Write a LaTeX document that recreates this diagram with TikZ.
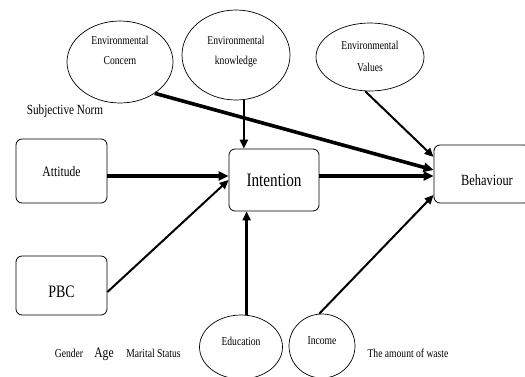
\documentclass[tikz,border=0pt]{standalone}
\usepackage{fontspec}
\setmainfont[FakeStretch=0.8]{Liberation Serif}
\usetikzlibrary{arrows.meta,shapes.geometric}
\newcommand{\mytxt}[2]{\raisebox{#1}[\height][\depth]{#2}}
\newcommand{\mylines}[3]{\raisebox{#1}[\height][\depth]{\begin{tabular}{@{}c@{}}#2\\#3\end{tabular}}}
\begin{document}
\begin{tikzpicture}[x=1pt,y=-1pt,
  box/.style={draw, rounded corners=6pt, line width=0.8pt, inner sep=0pt},
  ell/.style={draw, ellipse, line width=0.7pt, inner sep=0pt, align=center,
    font=\fontsize{12}{20}\selectfont},
  lbl/.style={inner sep=0pt, anchor=base, font=\fontsize{12}{14}\selectfont},
  arrthick/.style={-{Triangle[length=10pt,width=9pt]}, line width=3.6pt},
  arrmid/.style={-{Triangle[length=9pt,width=8pt]}, line width=2.4pt},
  arrthin/.style={-{Triangle[length=9pt,width=8pt]}, line width=2pt}]
\useasboundingbox (0,0) rectangle (525,376);
% ellipses
\node[ell, minimum width=106pt, minimum height=82pt] (ec) at (120,62) {\mylines{12pt}{Environmental}{Concern}};
\node[ell, minimum width=108pt, minimum height=90pt] (ek) at (236,55) {\mylines{5pt}{Environmental}{knowledge}};
\node[ell, minimum width=108pt, minimum height=68pt, font=\fontsize{12}{22}\selectfont] (ev) at (370,57) {\mylines{1pt}{Environmental}{Values}};
\node[ell, minimum width=83pt, minimum height=64pt] (edu) at (241,347) {\mytxt{6pt}{Education}};
\node[ell, minimum width=66pt, minimum height=64pt] (inc) at (322,346) {\mytxt{5pt}{Income}};
% boxes
\node[box, minimum width=91pt, minimum height=64pt, font=\fontsize{14.5}{16}\selectfont] (att) at (61.5,171) {\mytxt{-1pt}{Attitude}};
\node[box, minimum width=90pt, minimum height=62pt, font=\fontsize{19}{21}\selectfont] (int) at (274,180) {Intention};
\node[box, minimum width=96pt, minimum height=58pt, font=\fontsize{15.5}{17}\selectfont] (beh) at (482,174) {\hspace*{10pt}\mytxt{-6pt}{Behaviour}};
\node[box, minimum width=91pt, minimum height=59pt, font=\fontsize{17.5}{19}\selectfont] (pbc) at (61.5,285.5) {\mytxt{-6.5pt}{PBC}};
% labels
\node[inner sep=0pt, font=\fontsize{14}{16}\selectfont] (sn) at (65,111) {Subjective Norm};
\node[lbl] (gen) at (69,357) {Gender};
\node[lbl, font=\fontsize{14.5}{16}\selectfont] (age) at (104,357) {Age};
\node[lbl] (mar) at (153.5,357) {Marital Status};
\node[lbl] (waste) at (408,357) {The amount of waste};
% connectors
\draw[arrthick] ([yshift=-5pt]att.east) -- ([yshift=4pt]int.west);
\draw[arrthick] ([yshift=4pt]int.east) -- ([yshift=-2pt]beh.west);
\draw[arrthick] (ec.-42) -- ([yshift=4pt]beh.west);
\draw[arrmid] (ek.-80) -- (ek.-80 |- int.north);
\draw[arrthin] (ev.-98) -- ([yshift=17pt]beh.west);
\draw[arrthin] ([yshift=-6.5pt]pbc.east) -- (int.west);
\draw[arrmid] (edu.80) -- (edu.80 |- int.south);
\draw[arrthin] (inc.95) -- ([yshift=-21pt]beh.west);
\end{tikzpicture}
\end{document}
